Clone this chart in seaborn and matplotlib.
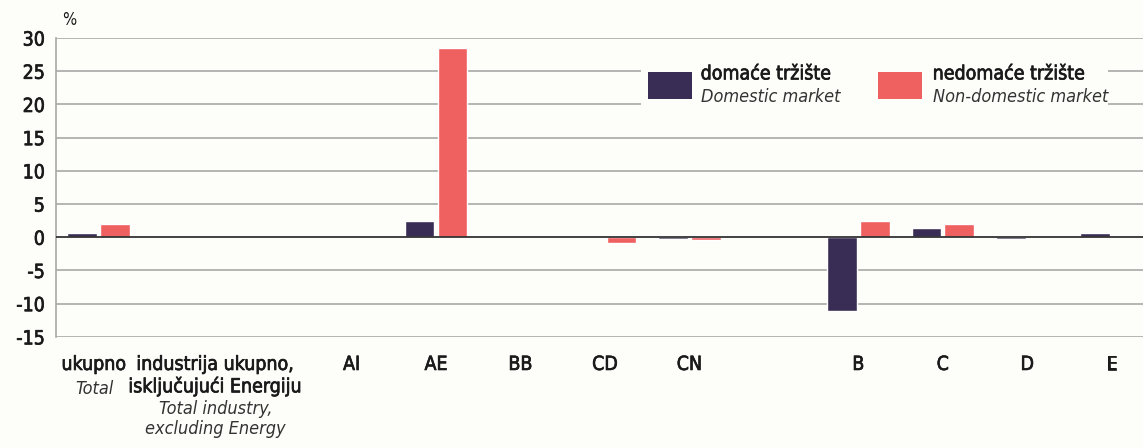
import pandas as pd
import seaborn as sns
import matplotlib.pyplot as plt
import matplotlib.patheffects as pe
from matplotlib.patches import Rectangle

# kategorije (prazna mjesta su razmaci u originalu)
kategorije = ['ukupno', 'industrija', ' ', 'AI', 'AE', 'BB', 'CD', 'CN', '  ', 'B', 'C', 'D', 'E']
domace = [0.6, 0.0, 0.0, 0.0, 2.4, 0.0, 0.0, -0.2, 0.0, -11.1, 1.4, -0.2, 0.6]
nedomace = [2.0, 0.0, 0.0, 0.2, 28.5, 0.0, -0.9, -0.4, 0.0, 2.4, 2.0, 0.0, 0.0]

oznake = ['ukupno', 'industrija ukupno,\nisključujući Energiju', 'AI', 'AE', 'BB', 'CD', 'CN', 'B', 'C', 'D', 'E']
oznake_en = ['Total', 'Total industry,\nexcluding Energy']
serije = ['domaće tržište', 'nedomaće tržište']
serije_en = ['Domestic market', 'Non-domestic market']

boje = ['#3a2d55', '#ee6160']
pozadina = '#fdfdfa'
tekst = '#1a1a1a'
podeblj = [pe.withStroke(linewidth=0.5, foreground=tekst)]

df = pd.DataFrame({
    'kategorija': kategorije * 2,
    'vrijednost': domace + nedomace,
    'trziste': [serije[0]] * len(kategorije) + [serije[1]] * len(kategorije),
})

sns.set_style('white')
plt.rcParams['font.family'] = ['DejaVu Sans']
plt.rcParams['font.stretch'] = 'condensed'

fig = plt.figure(figsize=(11.43, 4.48), dpi=100, facecolor=pozadina)
ax = fig.add_axes([0.049, 0.248, 0.951, 0.667])
ax.set_facecolor(pozadina)

sns.barplot(data=df, x='kategorija', y='vrijednost', hue='trziste', order=kategorije,
            palette=boje, width=0.78, gap=0.1, saturation=1, legend=False, ax=ax,
            zorder=3)

ax.set_ylim(-15, 30)
ax.set_xlim(-0.5, 12.37)
ax.set_yticks(range(-15, 31, 5))
ax.set_yticklabels([str(v) for v in range(-15, 31, 5)], fontsize=14, color=tekst)
for v in range(-15, 31, 5):
    ax.axhline(v, color='#333333' if v == 0 else '#a8a8a8', lw=1.3 if v == 0 else 1.2, zorder=1 if v else 4)
for s in ['top', 'right', 'bottom']:
    ax.spines[s].set_visible(False)
ax.spines['left'].set_color('#a8a8a8')
ax.spines['left'].set_linewidth(1.2)
ax.tick_params(axis='y', length=0, pad=8)
ax.set_xlabel('')
ax.set_ylabel('')

# x oznake
pozicije = [-0.05, 1.39, 3, 4, 5, 6, 7, 9, 10, 11, 12]
ax.set_xticks(pozicije)
ax.set_xticklabels(oznake, fontsize=14, color=tekst, va='top', linespacing=1.15)
ax.tick_params(axis='x', length=0, pad=13)
for t in ax.get_xticklabels() + ax.get_yticklabels():
    t.set_path_effects(podeblj)
tr = ax.get_xaxis_transform()
ax.text(-0.05, -0.143, oznake_en[0], transform=tr, ha='center', va='top', fontsize=13,
        style='italic', color='#333333')
ax.text(1.39, -0.212, oznake_en[1], transform=tr, ha='center', va='top', fontsize=13,
        style='italic', color='#333333', linespacing=1.12)

fig.text(0.061, 0.955, '%', fontsize=12, ha='center', va='center', color=tekst)

# legenda
ax.add_patch(Rectangle((0.538, 0.77), 0.43, 0.2, transform=ax.transAxes,
                       facecolor=pozadina, edgecolor='none', zorder=5))
for i, (x_patch, x_text) in enumerate([(0.567, 0.613), (0.768, 0.816)]):
    fig.patches.append(Rectangle((x_patch, 0.779), 0.0385, 0.06, transform=fig.transFigure,
                                 facecolor=boje[i], edgecolor='none', zorder=6))
    fig.text(x_text, 0.835, serije[i], fontsize=14, color=tekst, va='center', zorder=7,
             path_effects=podeblj)
    fig.text(x_text, 0.783, serije_en[i], fontsize=13, style='italic', color='#333333',
             va='center', zorder=7)

fig.savefig('out.png', dpi=100, facecolor=pozadina)
